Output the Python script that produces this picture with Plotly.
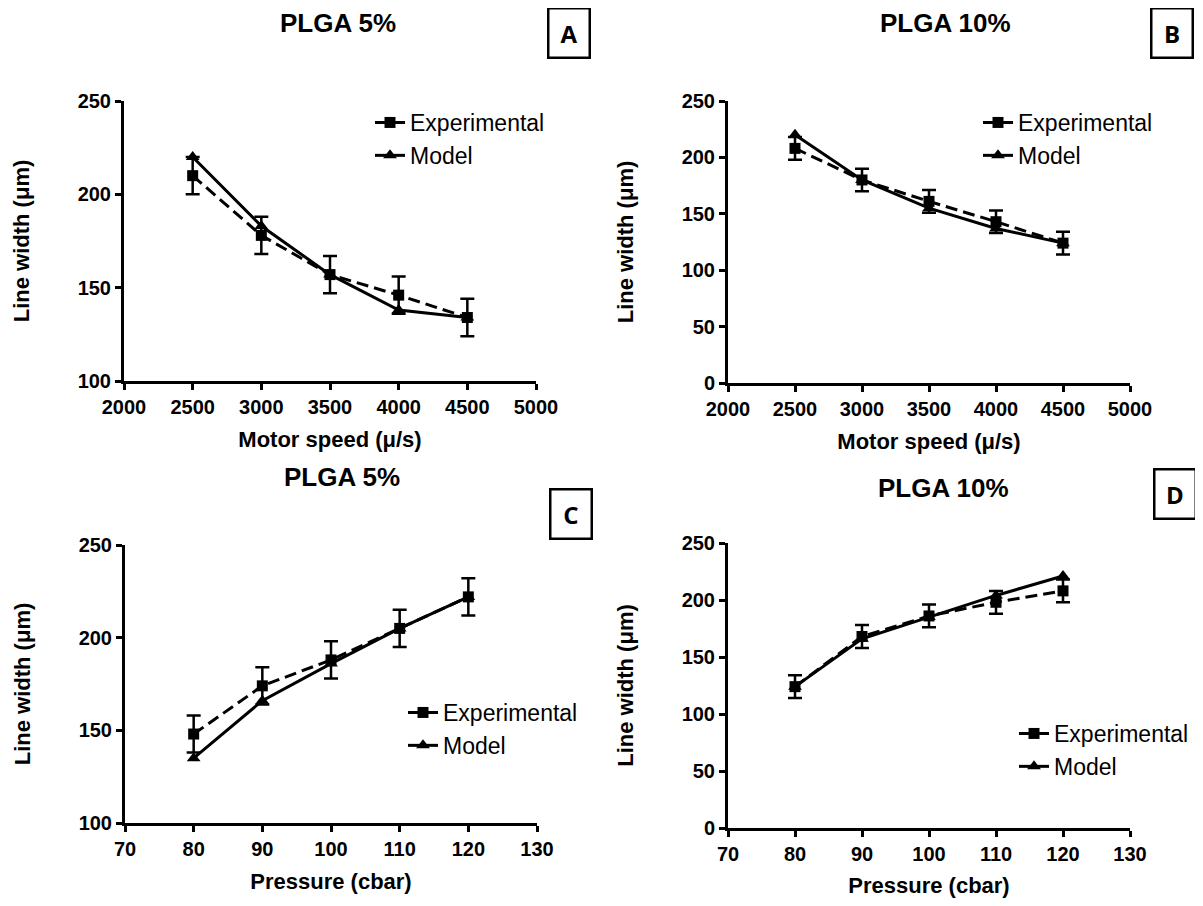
import plotly.graph_objects as go

# panel A / B: motor speed
speed = [2500, 3000, 3500, 4000, 4500]
exp_a = [210, 178, 157, 146, 134]
err_a = [10, 10, 10, 10, 10]
model_a = [220, 183, 157, 138, 134]

exp_b = [208, 180, 161, 143, 124]
err_b = [10, 10, 10, 10, 10]
model_b = [220, 180, 155, 137, 124]

# panel C / D: pressure
pressure = [80, 90, 100, 110, 120]
exp_c = [148, 174, 188, 205, 222]
err_c = [10, 10, 10, 10, 10]
model_c = [135, 166, 186, 205, 222]

exp_d = [124, 168, 186, 198, 208]
err_d = [10, 10, 10, 10, 10]
model_d = [124, 166, 185, 204, 221]

titles = ["PLGA 5%", "PLGA 10%", "PLGA 5%", "PLGA 10%"]
letters = ["A", "B", "C", "D"]

# the page body has an 8px margin, so the figure is a bit smaller than the window
OFF = 8
W, H = 1203 - 2 * OFF, 906 - 2 * OFF
FONT = "Arial"


def fx(px):
    return (px - OFF) / W


def fy(px):
    return 1 - (px - OFF) / H


# plot areas in page pixels: (left, right, top, bottom)
boxes = [
    (124, 536, 101, 381),
    (728, 1130, 101, 383),
    (125, 537, 545, 823),
    (728, 1130, 543, 828),
]

panels = [
    (speed, exp_a, err_a, model_a, [2000, 5000], 500, [100, 250], "Motor speed (μ/s)"),
    (speed, exp_b, err_b, model_b, [2000, 5000], 500, [0, 250], "Motor speed (μ/s)"),
    (pressure, exp_c, err_c, model_c, [70, 130], 10, [100, 250], "Pressure (cbar)"),
    (pressure, exp_d, err_d, model_d, [70, 130], 10, [0, 250], "Pressure (cbar)"),
]

# legend positions (x of left edge, y of top edge, page pixels)
legend_pos = [(370, 101), (978, 101), (403, 691), (1014, 712)]

# title and letter box centres
title_pos = [(338, 23), (945, 23), (342, 477), (943, 488)]
letter_pos = [(569, 33), (1172, 33), (571, 514), (1175, 494)]

fig = go.Figure()
layout_axes = {}

for i, (x, e, err, m, xr, xd, yr, xt) in enumerate(panels):
    n = "" if i == 0 else str(i + 1)
    leg = "legend" if i == 0 else f"legend{i + 1}"
    fig.add_trace(go.Scatter(
        x=x, y=e, name="Experimental", mode="lines+markers",
        line=dict(color="black", width=3, dash="12px,6px"),
        marker=dict(symbol="square", size=11, color="black"),
        error_y=dict(type="data", array=err, color="black", thickness=2.5, width=7),
        xaxis="x" + n, yaxis="y" + n, legend=leg, cliponaxis=False,
    ))
    fig.add_trace(go.Scatter(
        x=x, y=m, name="Model", mode="lines+markers",
        line=dict(color="black", width=3),
        marker=dict(symbol="triangle-up", size=12, color="black"),
        xaxis="x" + n, yaxis="y" + n, legend=leg, cliponaxis=False,
    ))

    l, r, t, b = boxes[i]
    axis_common = dict(
        showgrid=False, zeroline=False, showline=True, linecolor="black",
        linewidth=3, ticks="outside", ticklen=6, tickwidth=3, tickcolor="black",
        tickfont=dict(family=FONT, size=20, color="black", weight="bold"),
        mirror=False, automargin=False,
    )
    layout_axes["xaxis" + n] = dict(
        axis_common, domain=[fx(l), fx(r)], range=xr, dtick=xd, tick0=xr[0],
        anchor="y" + n,
        title=dict(text=xt, standoff=15,
                   font=dict(family=FONT, size=22, color="black", weight="bold")),
    )
    layout_axes["yaxis" + n] = dict(
        axis_common, domain=[fy(b), fy(t)], range=yr, dtick=50, tick0=0,
        anchor="x" + n,
        title=dict(text="Line width (μm)", standoff=42,
                   font=dict(family=FONT, size=22, color="black", weight="bold")),
    )

    lx, ly = legend_pos[i]
    layout_axes[leg] = dict(
        x=fx(lx), y=fy(ly), xanchor="left", yanchor="top",
        bgcolor="rgba(0,0,0,0)", itemwidth=30,
        font=dict(family=FONT, size=23, color="black"),
    )

annotations = []
for i in range(4):
    tx, ty = title_pos[i]
    annotations.append(dict(
        text=titles[i], x=fx(tx), y=fy(ty), xref="paper", yref="paper",
        showarrow=False, xanchor="center", yanchor="middle",
        font=dict(family=FONT, size=26, color="black", weight="bold"),
    ))
    bx, by = letter_pos[i]
    annotations.append(dict(
        text=letters[i], x=fx(bx), y=fy(by), xref="paper", yref="paper",
        showarrow=False, xanchor="center", yanchor="middle",
        width=37, height=45, bordercolor="black", borderwidth=2.5, borderpad=1,
        font=dict(family="Open Sans, sans-serif", size=24, color="black", weight="bold"),
    ))

fig.update_layout(
    width=W, height=H,
    margin=dict(l=0, r=0, t=0, b=0),
    paper_bgcolor="white", plot_bgcolor="white",
    annotations=annotations,
    **layout_axes,
)

fig.write_html("out.html")
